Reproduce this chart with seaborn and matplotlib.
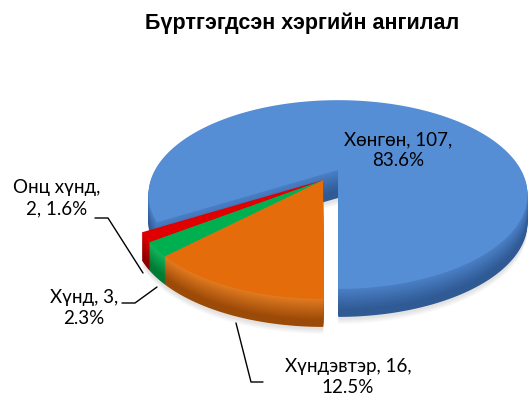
import numpy as np
import matplotlib.pyplot as plt
import seaborn as sns
from matplotlib.colors import to_rgb
from matplotlib.path import Path
from matplotlib.transforms import Transform

# data
categories = ['Хөнгөн', 'Хүндэвтэр', 'Хүнд', 'Онц хүнд']
counts = [107, 16, 3, 2]
percents = ['83.6%', '12.5%', '2.3%', '1.6%']
top_colors = ['#558ED5', '#E46C0A', '#00B050', '#E00000']
rim_colors = ['#4A7EC4', '#E07A20', '#12B45A', '#D80000']
side_colors = ['#2F5A94', '#9C4A08', '#007A34', '#900000']


class Tilt(Transform):
    """perspective squash of the unit pie onto the screen (pixel coords)"""
    input_dims = 2
    output_dims = 2

    def __init__(self, cx, cy, a=183, b=88, k=0.26):
        super().__init__()
        self.cx, self.cy, self.a, self.b, self.k = cx, cy, a, b, k

    def transform_non_affine(self, xy):
        xy = np.asarray(xy, float)
        w = 1 + self.k * xy[:, 1]
        return np.column_stack([self.cx + self.a * xy[:, 0] / w,
                                self.cy - self.b * xy[:, 1] / w])

    def transform_path_non_affine(self, path):
        # flatten the curves at a big scale so nothing gets simplified away
        big = Path(path.vertices * 1000.0, path.codes)
        verts = np.vstack(big.to_polygons(closed_only=True)) / 1000.0
        return Path(self.transform_non_affine(verts), closed=True)


def mix(c1, c2, t):
    c1, c2 = np.array(to_rgb(c1)), np.array(to_rgb(c2))
    return tuple(c1 * (1 - t) + c2 * t)


sns.set_theme(style='white')
fig = plt.figure(figsize=(5.3, 4.01), dpi=100)
ax = fig.add_axes([0, 0, 1, 1])

cx, cy = 338, 170
depth = 28
offsets = [(0, 0), (-15, 10), (-15, 10), (-15, 10)]

# soft shadow
for s in range(6):
    wedges, _ = ax.pie(counts, startangle=211, counterclock=False,
                       colors=['#808080'] * 4, wedgeprops=dict(linewidth=0, alpha=0.04))
    for i, w in enumerate(wedges):
        w.set_transform(Tilt(cx + offsets[i][0], cy + offsets[i][1] + depth + 2 + s) + ax.transData)

# side walls, lighter near the rim
for d in range(depth, 0, -1):
    t = (d - 1) / (depth - 1)
    cols = [mix(rim_colors[i], side_colors[i], min(1.0, t * 1.3)) for i in range(4)]
    wedges, _ = ax.pie(counts, startangle=211, counterclock=False,
                       colors=cols, wedgeprops=dict(linewidth=0))
    for i, w in enumerate(wedges):
        w.set_transform(Tilt(cx + offsets[i][0], cy + offsets[i][1] + d) + ax.transData)

# top faces
wedges, _ = ax.pie(counts, startangle=211, counterclock=False,
                   colors=top_colors, wedgeprops=dict(linewidth=0))
for i, w in enumerate(wedges):
    w.set_transform(Tilt(cx + offsets[i][0], cy + offsets[i][1]) + ax.transData)

ax.set_aspect('auto')
ax.set_xlim(0, 530)
ax.set_ylim(401, 0)
ax.axis('off')

ax.text(302, 23, 'Бүртгэгдсэн хэргийн ангилал', ha='center', va='center', color='black',
        fontfamily='Liberation Sans', fontweight='bold', fontsize=15.5)

lab = dict(ha='center', va='center', fontfamily='Lato', fontsize=13.5,
           linespacing=1.3, color='black')
ax.text(398, 150, f'{categories[0]}, {counts[0]},\n{percents[0]}', **lab)
ax.text(348, 377, f'{categories[1]}, {counts[1]},\n{percents[1]}', **lab)
ax.text(84, 308, f'{categories[2]}, {counts[2]},\n{percents[2]}', **lab)
ax.text(57, 198, f'{categories[3]},\n{counts[3]}, {percents[3]}', **lab)

# leader lines
ax.plot([95, 108, 143], [218, 218, 273], color='black', lw=1)
ax.plot([122, 135, 157], [303, 303, 287], color='black', lw=1)
ax.plot([236, 251, 263], [323, 382, 382], color='black', lw=1)

fig.savefig('out.png', dpi=100)
